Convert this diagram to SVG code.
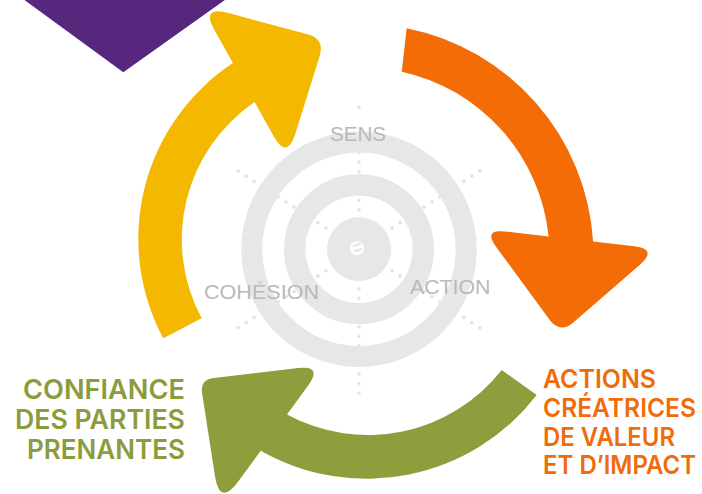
<svg xmlns="http://www.w3.org/2000/svg" width="702" height="494" viewBox="0 0 702 494">
<style>
.dots{stroke:#e3e3e3;stroke-width:3.6;stroke-linecap:round;stroke-dasharray:0 9.5;fill:none}
.ring{fill:none;stroke:#e7e7e7}
.lbl{font-family:"Liberation Sans",Arial,sans-serif;font-size:20px;fill:#b9b9b9}
.big{font-family:Inter,"Liberation Sans",Arial,sans-serif;font-weight:600}
.gt{fill:#8c9c3c;font-size:27.5px}
.ot{fill:#f06c0a;font-size:26px}
</style>
<rect width="702" height="494" fill="#ffffff"/>
<polygon id="corner" points="21.7,-2 227.7,-2 123.3,72.3" fill="#57267d"/>
<g id="target">
<g transform="translate(359 249.3)">
<line class="dots" x1="0" y1="-30" x2="0" y2="-100"/>
<circle cx="0" cy="-142" r="1.8" fill="#e3e3e3"/>
<line class="dots" x1="0" y1="-30" x2="0" y2="-146" transform="rotate(180)"/>
<line class="dots" x1="0" y1="-30" x2="0" y2="-146" transform="rotate(57)"/>
<line class="dots" x1="0" y1="-30" x2="0" y2="-146" transform="rotate(123)"/>
<line class="dots" x1="0" y1="-30" x2="0" y2="-146" transform="rotate(237)"/>
<line class="dots" x1="0" y1="-30" x2="0" y2="-146" transform="rotate(303)"/>
<circle class="ring" r="107.2" stroke-width="21"/>
<circle class="ring" r="64.3" stroke-width="21.3"/>
<circle r="32" fill="#e7e7e7"/>
<circle cx="-2" cy="-1" r="7" fill="#ffffff"/>
<line x1="-5" y1="-3.5" x2="1" y2="-5.5" stroke="#e7e7e7" stroke-width="2.4" stroke-linecap="round"/>
<line x1="-4" y1="1.8" x2="2" y2="-0.2" stroke="#e7e7e7" stroke-width="2.4" stroke-linecap="round"/>
</g>
<text class="lbl" x="330" y="141" textLength="56" lengthAdjust="spacingAndGlyphs">SENS</text>
<text class="lbl" x="204" y="299.3" textLength="115" lengthAdjust="spacingAndGlyphs">COHÉSION</text>
<text class="lbl" x="410" y="294.3" textLength="80.5" lengthAdjust="spacingAndGlyphs">ACTION</text>
</g>
<g id="connectors">
<path id="arrow-yellow" fill="#f4b800" d="M 163.3 338.3 A 210.5 210.5 0 0 1 232.9 63.1 L 214.45 30.05 Q 200.8 5.6 227.8 12.87 L 307.6 34.3 Q 325 39 319.6 56.2 L 295.4 133.5 Q 287 160.2 273.4 135.7 L 254.6 102.1 A 166 166 0 0 0 201.7 318.3 Z"/>
<path id="arrow-orange" fill="#f36c06" d="M 406.7 28.3 A 232 232 0 0 1 593.1 241.6 L 634.2 246.3 Q 658 249 639.9 264.7 L 573.6 322.2 Q 560 334 549.4 319.5 L 496 246.7 Q 483 229 504.9 231.5 L 548.6 236.5 A 188 188 0 0 0 401.7 71.7 Z"/>
<path id="arrow-green" fill="#8e9e3c" d="M 536.7 395 A 214.5 214.5 0 0 1 260.7 450.8 L 238.6 481.1 Q 219.8 507 214.9 475.4 L 202.1 393.3 Q 200 379.5 213.9 377.9 L 298.1 368.1 Q 322.9 365.2 308.2 385.4 L 287 414.5 A 170 170 0 0 0 501.7 370 Z"/>
</g>
<g id="confiance" class="big gt" text-anchor="end">
<text x="185" y="399" textLength="162" lengthAdjust="spacingAndGlyphs">CONFIANCE</text>
<text x="185" y="429" textLength="170" lengthAdjust="spacingAndGlyphs">DES PARTIES</text>
<text x="185" y="458.5" textLength="158" lengthAdjust="spacingAndGlyphs">PRENANTES</text>
</g>
<g id="actions" class="big ot">
<text x="543" y="388" textLength="113" lengthAdjust="spacingAndGlyphs">ACTIONS</text>
<text x="543" y="417" textLength="153" lengthAdjust="spacingAndGlyphs">CRÉATRICES</text>
<text x="543" y="445.5" textLength="132" lengthAdjust="spacingAndGlyphs">DE VALEUR</text>
<text x="543" y="473.5" textLength="153" lengthAdjust="spacingAndGlyphs">ET D’IMPACT</text>
</g>
</svg>
